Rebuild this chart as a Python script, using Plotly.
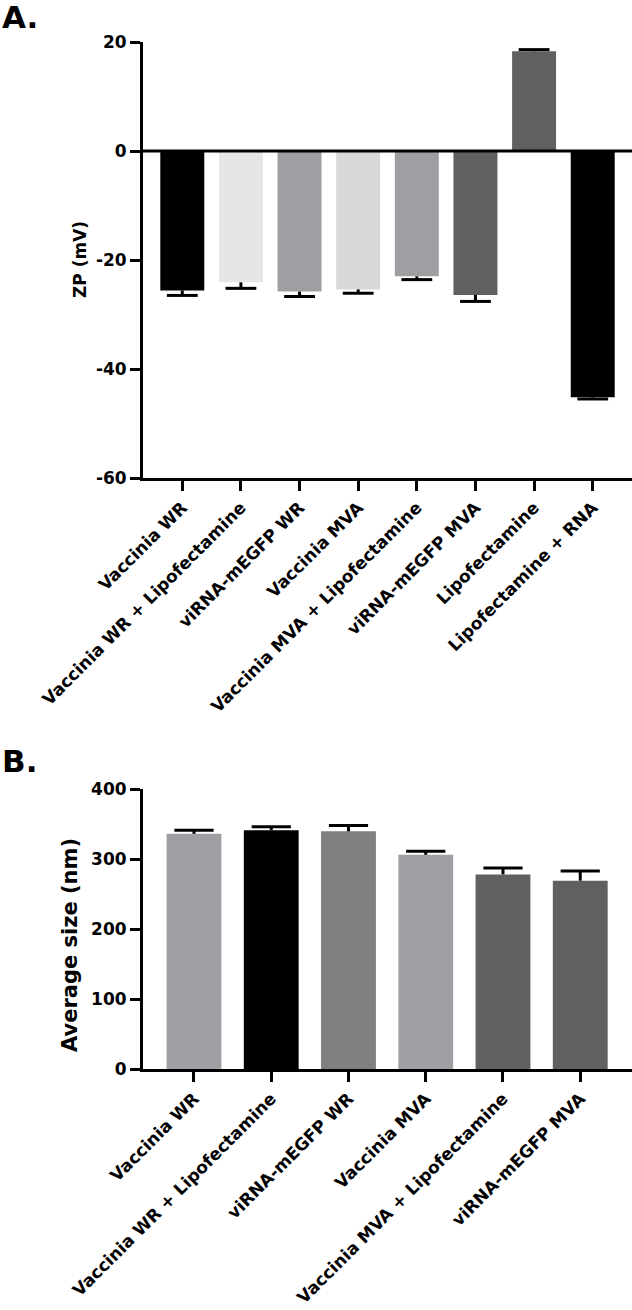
import plotly.graph_objects as go

# ---- Panel A data ----
cats_a = ["Vaccinia WR", "Vaccinia WR + Lipofectamine", "viRNA-mEGFP WR", "Vaccinia MVA",
          "Vaccinia MVA + Lipofectamine", "viRNA-mEGFP MVA", "Lipofectamine", "Lipofectamine + RNA"]
zp_values = [-25.6, -24.1, -25.8, -25.4, -23.0, -26.4, 18.3, -45.2]
zp_errors = [0.9, 1.1, 0.9, 0.7, 0.6, 1.2, 0.3, 0.3]
colors_a = ["#000000", "#e6e6e6", "#9f9fa3", "#d8d8d8", "#9f9fa3", "#606060", "#606060", "#000000"]
yticks_a = [20, 0, -20, -40, -60]

# ---- Panel B data ----
cats_b = ["Vaccinia WR", "Vaccinia WR + Lipofectamine", "viRNA-mEGFP WR", "Vaccinia MVA",
          "Vaccinia MVA + Lipofectamine", "viRNA-mEGFP MVA"]
size_values = [336, 341, 339.5, 306, 278, 269]
size_errors = [5, 5, 8.5, 5, 9, 14]
colors_b = ["#a0a0a4", "#000000", "#808080", "#a0a0a4", "#606060", "#606060"]
yticks_b = [0, 100, 200, 300, 400]

FONT = "DejaVu Sans"
W, H = 632, 1310

def one_sided(values, errors):
    up = [e if v >= 0 else 0 for v, e in zip(values, errors)]
    down = [e if v < 0 else 0 for v, e in zip(values, errors)]
    tips = [v + e if v >= 0 else v - e for v, e in zip(values, errors)]
    return up, down, tips

fig = go.Figure()

up_a, dn_a, tip_a = one_sided(zp_values, zp_errors)
fig.add_trace(go.Bar(
    x=cats_a, y=zp_values, marker=dict(color=colors_a, line=dict(width=0)),
    width=0.75, xaxis="x", yaxis="y", showlegend=False,
    error_y=dict(type="data", symmetric=False, array=up_a, arrayminus=dn_a,
                 width=0, thickness=3, color="black"),
))
fig.add_trace(go.Scatter(
    x=cats_a, y=tip_a, mode="markers", xaxis="x", yaxis="y", showlegend=False,
    marker=dict(symbol="line-ew", size=22, line=dict(width=3, color="black")),
))

up_b, dn_b, tip_b = one_sided(size_values, size_errors)
fig.add_trace(go.Bar(
    x=cats_b, y=size_values, marker=dict(color=colors_b, line=dict(width=0)),
    width=0.71, xaxis="x2", yaxis="y2", showlegend=False,
    error_y=dict(type="data", symmetric=False, array=up_b, arrayminus=dn_b,
                 width=0, thickness=3, color="black"),
))
fig.add_trace(go.Scatter(
    x=cats_b, y=tip_b, mode="markers", xaxis="x2", yaxis="y2", showlegend=False,
    marker=dict(symbol="line-ew", size=28, line=dict(width=3, color="black")),
))

tickfont = dict(family=FONT, size=17, weight="bold", color="black")
catfont = dict(family=FONT, size=17, weight="bold", color="black")
xdom = [143 / W, 1.0]
ydom_a = [1 - 478 / H, 1 - 42 / H]
ydom_b = [1 - 1069 / H, 1 - 789 / H]

axis_common = dict(showline=True, linecolor="black", linewidth=3, ticks="outside",
                   ticklen=10, tickwidth=3, tickcolor="black", showgrid=False,
                   zeroline=False, automargin=False)

fig.update_layout(
    width=W, height=H, autosize=False,
    margin=dict(l=0, r=0, t=0, b=0),
    paper_bgcolor="white", plot_bgcolor="white",
    xaxis=dict(domain=xdom, anchor="y", range=[-0.67, 7.67], tickangle=-45,
               tickfont=catfont, type="category", **axis_common),
    yaxis=dict(domain=ydom_a, anchor="x", range=[-60, 20], tickvals=yticks_a,
               ticktext=[str(v) for v in yticks_a], tickfont=tickfont, **axis_common),
    xaxis2=dict(domain=xdom, anchor="y2", range=[-0.66, 5.67], tickangle=-45,
                tickfont=catfont, type="category", **axis_common),
    yaxis2=dict(domain=ydom_b, anchor="x2", range=[0, 400], tickvals=yticks_b,
                ticktext=[str(v) for v in yticks_b], tickfont=tickfont, **axis_common),
    shapes=[dict(type="line", xref="x domain", yref="y", x0=0, x1=1, y0=0, y1=0,
                 line=dict(color="black", width=3), layer="above")],
    annotations=[
        dict(text="ZP (mV)", xref="paper", yref="paper", x=80 / W, y=1 - 260 / H,
             textangle=-90, showarrow=False, xanchor="center", yanchor="middle",
             font=dict(family=FONT, size=17, weight="bold", color="black")),
        dict(text="Average size (nm)", xref="paper", yref="paper", x=70 / W, y=1 - 945 / H,
             textangle=-90, showarrow=False, xanchor="center", yanchor="middle",
             font=dict(family=FONT, size=21, weight="bold", color="black")),
        dict(text="A.", xref="paper", yref="paper", x=0, y=1 - 17 / H,
             showarrow=False, xanchor="left", yanchor="middle",
             font=dict(family=FONT, size=31, weight="bold", color="black")),
        dict(text="B.", xref="paper", yref="paper", x=0, y=1 - 761 / H,
             showarrow=False, xanchor="left", yanchor="middle",
             font=dict(family=FONT, size=31, weight="bold", color="black")),
    ],
)

fig.write_html("out.html", config={"displayModeBar": False},
               post_script="document.body.style.margin='0';")
